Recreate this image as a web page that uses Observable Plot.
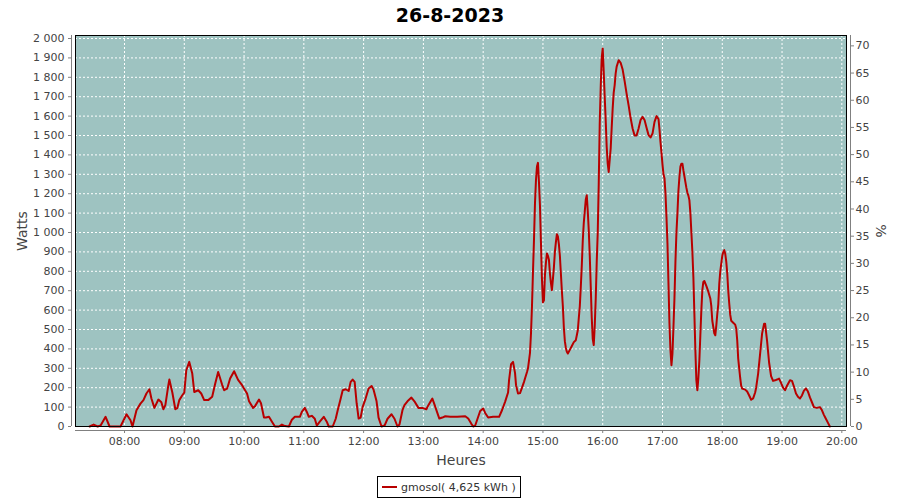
<!DOCTYPE html>
<html><head><meta charset="utf-8">
<script src="https://cdn.jsdelivr.net/npm/d3@7"></script>
<script src="https://cdn.jsdelivr.net/npm/@observablehq/plot@0.6"></script>
<style>
body{margin:0;background:#fff;font-family:"DejaVu Sans",sans-serif;}
#wrap{position:relative;width:900px;height:500px;}
#title{position:absolute;left:0;top:3px;width:900px;text-align:center;font-weight:bold;font-size:19px;color:#000;line-height:24px;}
#legend{position:absolute;left:377px;top:476px;width:144px;height:22px;box-sizing:border-box;border:1px solid #000;display:flex;align-items:center;font-size:11px;color:#333;}
#legend .sw{width:15px;height:2px;background:#b80000;margin-left:4px;margin-right:4px;}
</style>
</head><body>
<div id="wrap">
<div id="chart"></div>
<div id="title"></div>
<div id="legend"><span class="sw"></span><span id="legtext"></span></div>
</div>
<script>
const chartTitle = "26-8-2023";
const seriesName = "gmosol( 4,625 kWh )";
const hourLabels = ["08:00","09:00","10:00","11:00","12:00","13:00","14:00","15:00","16:00","17:00","18:00","19:00","20:00"];
const wattTicks = [0,100,200,300,400,500,600,700,800,900,1000,1100,1200,1300,1400,1500,1600,1700,1800,1900,2000];
const pctTicks = [0,5,10,15,20,25,30,35,40,45,50,55,60,65,70];
const times = ["07:25","07:29","07:33","07:36","07:41","07:45","07:56","08:02","08:06","08:08","08:12","08:16","08:19","08:22","08:25","08:27","08:30","08:34","08:37","08:39","08:41","08:44","08:45","08:48","08:51","08:53","08:55","08:58","09:00","09:02","09:05","09:08","09:10","09:14","09:17","09:20","09:24","09:28","09:31","09:34","09:38","09:40","09:43","09:46","09:50","09:54","09:58","10:01","10:03","10:05","10:09","10:11","10:15","10:17","10:20","10:22","10:25","10:28","10:31","10:35","10:38","10:41","10:45","10:48","10:51","10:56","10:58","11:01","11:03","11:05","11:08","11:11","11:13","11:16","11:20","11:23","11:25","11:29","11:32","11:34","11:37","11:39","11:42","11:45","11:47","11:49","11:51","11:53","11:55","11:57","11:59","12:02","12:05","12:08","12:10","12:13","12:15","12:18","12:21","12:24","12:28","12:31","12:34","12:36","12:39","12:41","12:44","12:48","12:51","12:55","12:59","13:03","13:05","13:07","13:09","13:11","13:14","13:16","13:19","13:22","13:27","13:34","13:42","13:45","13:48","13:50","13:52","13:54","13:57","14:00","14:02","14:05","14:10","14:16","14:19","14:22","14:25","14:26","14:28","14:30","14:32","14:33","14:35","14:37","14:39","14:41","14:42","14:44","14:45","14:47","14:48","14:49","14:50","14:51","14:52","14:53","14:54","14:55","14:56","14:57","14:58","14:59","15:00","15:01","15:02","15:03","15:04","15:05","15:06","15:07","15:08","15:09","15:10","15:11","15:12","15:13","15:14","15:15","15:16","15:17","15:18","15:19","15:20","15:21","15:22","15:23","15:24","15:25","15:27","15:29","15:31","15:33","15:34","15:35","15:36","15:37","15:38","15:39","15:40","15:41","15:42","15:43","15:44","15:45","15:46","15:47","15:48","15:49","15:50","15:51","15:52","15:53","15:54","15:55","15:56","15:57","15:58","15:59","16:00","16:01","16:02","16:03","16:04","16:05","16:06","16:07","16:08","16:09","16:10","16:11","16:12","16:13","16:14","16:16","16:18","16:20","16:22","16:24","16:26","16:28","16:30","16:32","16:34","16:36","16:38","16:40","16:42","16:44","16:46","16:48","16:50","16:52","16:54","16:56","16:57","16:58","16:59","17:00","17:01","17:02","17:03","17:04","17:05","17:06","17:07","17:08","17:09","17:10","17:11","17:12","17:13","17:14","17:15","17:16","17:17","17:18","17:19","17:20","17:21","17:22","17:23","17:24","17:25","17:26","17:27","17:28","17:29","17:30","17:31","17:32","17:33","17:34","17:35","17:36","17:37","17:38","17:39","17:40","17:41","17:42","17:44","17:46","17:48","17:49","17:50","17:51","17:52","17:53","17:54","17:55","17:56","17:57","17:58","17:59","18:00","18:01","18:02","18:03","18:04","18:05","18:06","18:07","18:08","18:09","18:11","18:13","18:14","18:15","18:16","18:17","18:18","18:19","18:20","18:23","18:25","18:27","18:29","18:31","18:33","18:34","18:36","18:38","18:40","18:42","18:43","18:45","18:47","18:49","18:51","18:53","18:55","18:57","18:59","19:01","19:03","19:05","19:08","19:10","19:12","19:14","19:16","19:18","19:20","19:22","19:24","19:26","19:28","19:30","19:32","19:35","19:38","19:40","19:42","19:44","19:46","19:48"];
const watts = [0,10,0,5,50,0,0,63,32,0,84,118,136,170,192,144,96,139,125,89,110,213,242,175,89,95,136,161,175,290,333,273,178,187,170,136,136,153,220,281,215,187,195,247,285,240,213,187,170,130,96,105,139,120,46,46,50,25,0,0,10,2,0,35,50,50,75,96,75,50,55,40,5,25,50,25,0,0,40,84,144,187,192,183,230,242,230,120,41,46,100,144,196,209,190,130,46,0,5,40,63,40,0,10,84,110,130,149,130,96,96,89,110,127,144,115,70,41,46,53,50,50,53,41,15,0,5,35,80,93,70,46,50,50,85,127,175,239,321,333,275,213,170,172,200,230,247,281,300,380,480,620,797,960,1150,1270,1340,1359,1260,1140,950,760,640,650,780,845,892,880,860,790,740,703,760,820,900,950,991,980,940,880,790,700,620,510,440,405,385,376,395,415,435,445,470,496,560,620,720,830,960,1050,1110,1170,1192,1110,1010,880,720,560,450,420,520,660,850,1000,1250,1562,1751,1900,1949,1830,1700,1579,1441,1356,1312,1373,1433,1540,1640,1720,1760,1820,1855,1888,1875,1840,1780,1715,1655,1590,1536,1500,1500,1536,1580,1596,1580,1540,1502,1490,1510,1570,1600,1585,1530,1465,1410,1350,1300,1280,1201,1080,943,737,531,393,316,376,513,660,850,1000,1100,1215,1287,1340,1355,1355,1320,1290,1260,1230,1205,1190,1167,1100,1000,900,771,582,393,239,187,250,340,470,600,703,745,750,725,695,660,620,545,513,480,470,520,580,630,737,800,840,880,900,909,890,850,790,700,634,575,545,535,525,505,445,350,300,250,210,195,190,180,160,138,145,175,200,273,376,480,530,530,440,330,260,235,238,242,247,225,200,187,210,238,235,205,170,153,144,160,185,196,180,150,125,100,96,100,85,60,40,20,0];

const day = [2023, 7, 26];
const parseT = s => { const p = s.split(":").map(Number); return new Date(Date.UTC(day[0], day[1], day[2], p[0], p[1], p[2] || 0)); };
const data = times.map((t, i) => ({t: parseT(t), w: watts[i]}));
const xDomain = [parseT("07:10:48"), parseT("20:04:42")];
const yMax = 2015.5;
const wattsPerPct = 28.03;
const hourTicks = hourLabels.map(parseT);
const fmtW = d3.formatLocale({decimal: ",", thousands: " ", grouping: [3], currency: ["", ""]}).format(",d");
const gridStyle = {stroke: "#ffffff", strokeOpacity: 1, strokeDasharray: "2,2"};
const axisGray = "#808080";

const chart = Plot.plot({
  width: 900, height: 500,
  marginLeft: 75, marginTop: 35, marginRight: 54, marginBottom: 74,
  x: {type: "utc", domain: xDomain},
  y: {domain: [0, yMax]},
  style: {fontFamily: "DejaVu Sans", fontSize: "11px", color: "#444", background: "#fff", overflow: "visible"},
  marks: [
    Plot.frame({fill: "#9ec3c1"}),
    Plot.gridY(wattTicks.filter(d => d > 0), gridStyle),
    Plot.gridX(hourTicks, gridStyle),
    Plot.line(data, {x: "t", y: "w", stroke: "#b80000", strokeWidth: 2}),
    Plot.frame({stroke: "#000", strokeWidth: 1}),
    Plot.ruleX([xDomain[0]], {dx: -4, stroke: axisGray}),
    Plot.ruleX([xDomain[1]], {dx: 4, stroke: axisGray}),
    Plot.ruleY([0], {dy: 4, stroke: axisGray}),
    Plot.axisY(wattTicks, {anchor: "left", dx: -4, tickSize: 3, tickPadding: 4, tickFormat: fmtW, label: null, stroke: axisGray, fill: "#444"}),
    Plot.axisY(pctTicks.map(p => p * wattsPerPct), {anchor: "right", dx: 4, tickSize: 3, tickPadding: 2, tickFormat: d => String(Math.round(d / wattsPerPct)), label: null, stroke: axisGray, fill: "#444"}),
    Plot.axisX(hourTicks, {anchor: "bottom", dy: 4, tickSize: 3, tickPadding: 4, tickFormat: d3.utcFormat("%H:%M"), label: null, stroke: axisGray, fill: "#444"}),
    Plot.text(["Watts"], {frameAnchor: "left", dx: -53, rotate: -90, textAnchor: "middle", lineAnchor: "middle", fontSize: 14, fill: "#444"}),
    Plot.text(["%"], {frameAnchor: "right", dx: 34, rotate: 90, textAnchor: "middle", lineAnchor: "middle", fontSize: 14, fill: "#444"}),
    Plot.text(["Heures"], {frameAnchor: "bottom", dy: 34, textAnchor: "middle", lineAnchor: "middle", fontSize: 14, fill: "#444"})
  ]
});
document.getElementById("chart").appendChild(chart);
document.getElementById("title").textContent = chartTitle;
document.getElementById("legtext").textContent = seriesName;
</script>
</body></html>
